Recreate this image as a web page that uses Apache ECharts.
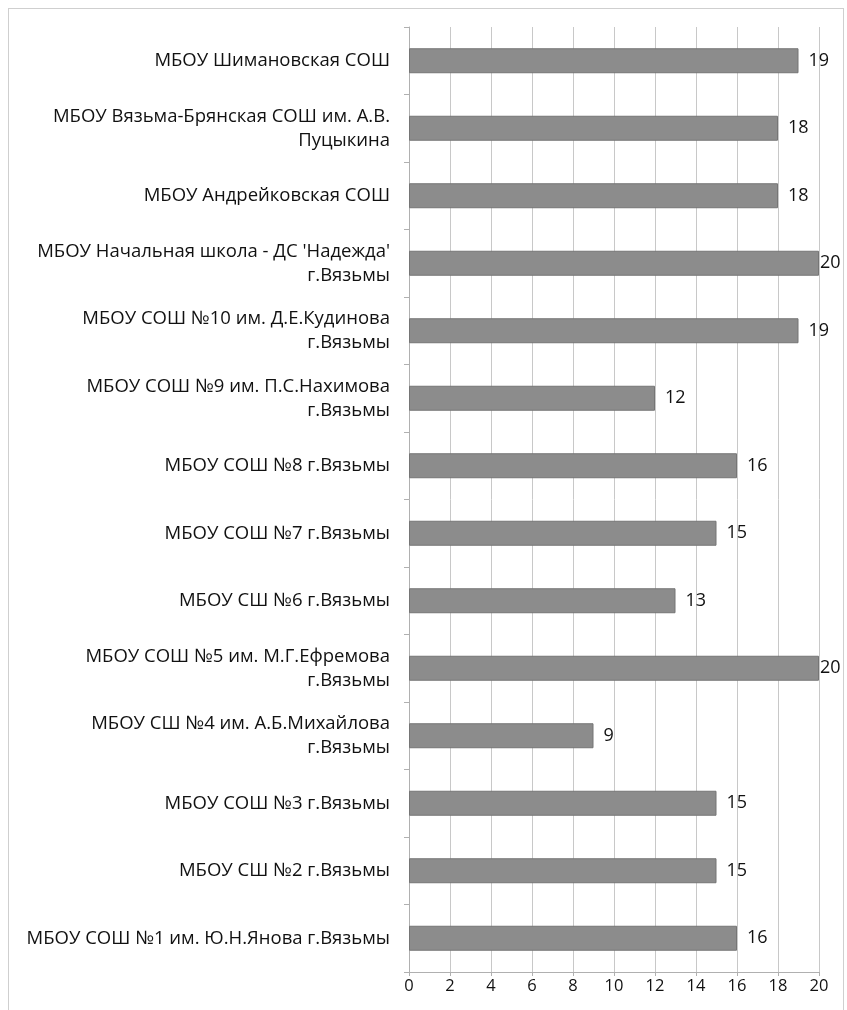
<!DOCTYPE html>
<html><head><meta charset="utf-8">
<script src="https://cdn.jsdelivr.net/npm/echarts@6/dist/echarts.min.js"></script>
<style>html,body{margin:0;padding:0;background:#fff}#c{width:847px;height:1010px}
#frame{position:absolute;left:8px;top:8px;width:834px;height:1010px;border:1px solid #cfcfcf;border-bottom:none;pointer-events:none}</style>
</head><body><div id="c"></div><div id="frame"></div>
<script>
const categories = [
  "МБОУ Шимановская СОШ",
  "МБОУ Вязьма-Брянская СОШ им. А.В.\nПуцыкина",
  "МБОУ Андрейковская СОШ",
  "МБОУ Начальная школа - ДС 'Надежда'\nг.Вязьмы",
  "МБОУ СОШ №10 им. Д.Е.Кудинова\nг.Вязьмы",
  "МБОУ СОШ №9 им. П.С.Нахимова\nг.Вязьмы",
  "МБОУ СОШ №8 г.Вязьмы",
  "МБОУ СОШ №7 г.Вязьмы",
  "МБОУ СШ №6 г.Вязьмы",
  "МБОУ СОШ №5 им. М.Г.Ефремова\nг.Вязьмы",
  "МБОУ СШ №4 им. А.Б.Михайлова\nг.Вязьмы",
  "МБОУ СОШ №3 г.Вязьмы",
  "МБОУ СШ №2 г.Вязьмы",
  "МБОУ СОШ №1 им. Ю.Н.Янова г.Вязьмы"
];
const values = [19, 18, 18, 20, 19, 12, 16, 15, 13, 20, 9, 15, 15, 16];
const xTicks = { min: 0, max: 20, interval: 2 };

const chart = echarts.init(document.getElementById('c'));
const font = "'Open Sans', 'Noto Sans', sans-serif";
const seriesData = values.map(v => ({
  value: v,
  label: { distance: v >= xTicks.max ? 1 : 10 }
}));
chart.setOption({
  backgroundColor: '#fff',
  animation: false,
  grid: { left: 409, right: 28, top: 27, bottom: 38, containLabel: false },
  xAxis: {
    type: 'value', min: xTicks.min, max: xTicks.max, interval: xTicks.interval,
    axisLine: { show: true, lineStyle: { color: '#b0b0b0' } },
    axisTick: { show: true, length: 4, lineStyle: { color: '#b0b0b0' } },
    splitLine: { show: true, lineStyle: { color: '#c8c8c8', width: 1 } },
    axisLabel: { color: '#111', fontSize: 16.5, fontFamily: font, margin: 6 }
  },
  yAxis: {
    type: 'category', data: categories, inverse: true,
    axisLine: { show: true, lineStyle: { color: '#b0b0b0' } },
    axisTick: { show: true, length: 5, lineStyle: { color: '#b0b0b0' } },
    axisLabel: { color: '#111', fontSize: 18.5, fontFamily: font, margin: 19, align: 'right', lineHeight: 24 }
  },
  series: [{
    type: 'bar', data: seriesData, barWidth: '37%',
    itemStyle: { color: '#8c8c8c', borderColor: '#757575', borderWidth: 1 },
    label: { show: true, position: 'right', color: '#111', fontSize: 18, fontFamily: font }
  }]
});
</script></body></html>
